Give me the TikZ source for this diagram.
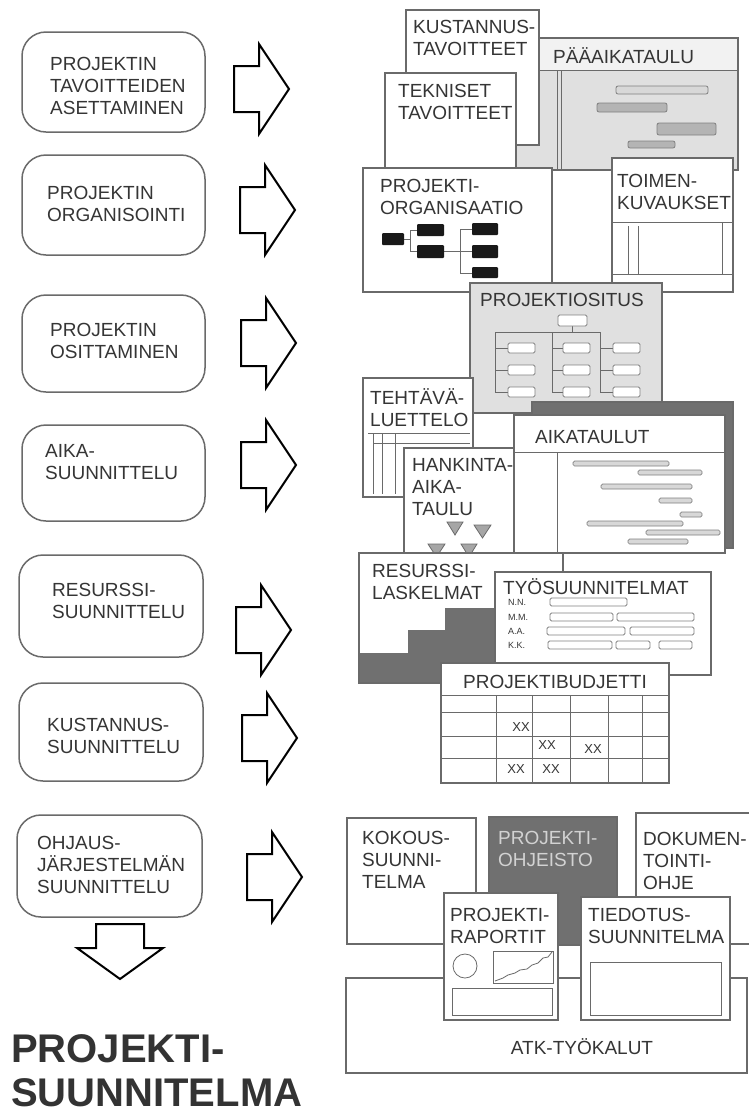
\documentclass[tikz,border=0pt]{standalone}
\usepackage{fontspec}
\setmainfont{Liberation Sans}
\definecolor{ln}{HTML}{6A6A6A}
\definecolor{txt}{HTML}{353535}
\definecolor{lgray}{HTML}{E0E0E0}
\definecolor{hdr}{HTML}{F2F2F2}
\definecolor{dgray}{HTML}{707070}
\definecolor{barf}{HTML}{B4B4B4}
\definecolor{barl}{HTML}{D8D8D8}
\definecolor{ohj}{HTML}{D2D2D2}
\tikzset{
  box/.style={draw=ln, line width=1.2pt, fill=white},
  thinln/.style={draw=ln, line width=0.8pt},
  lbl/.style={inner sep=0pt, anchor=west, align=left, text=txt, font=\fontsize{19}{22}\selectfont},
  smalllbl/.style={inner sep=0pt, anchor=west, text=txt, font=\fontsize{9}{10}\selectfont},
  xxlbl/.style={inner sep=0pt, text=txt, font=\fontsize{13}{15}\selectfont},
  leftbox/.style={draw=ln, line width=1.5pt, rounded corners=24pt, fill=white},
  blk/.style={draw=black, line width=2pt, fill=white, line join=miter},
  gbar/.style={draw=gray, line width=0.8pt, fill=barf, rounded corners=2pt},
  lbar/.style={draw=gray, line width=0.7pt, fill=barl, rounded corners=1.5pt},
  wbar/.style={draw=gray, line width=0.8pt, fill=white, rounded corners=1.5pt},
  blkbox/.style={fill=black!90, rounded corners=1pt},
  tri/.style={draw=ln, line width=0.8pt, fill=gray!70},
  rarrow/.pic={\draw[blk] (-27,-23)--(-2,-23)--(-2,-45)--(28,0)--(-2,45)--(-2,23)--(-27,23)--cycle;}
}
\begin{document}
\begin{tikzpicture}[x=1pt,y=-1pt]
\useasboundingbox[fill=white] (0,0) rectangle (749,1117);

% ---------- left column ----------
\draw[leftbox] (22,32) rectangle (205,132);
\node[lbl] (l1) at (50,86) {PROJEKTIN\\TAVOITTEIDEN\\ASETTAMINEN};
\draw[leftbox] (22,155) rectangle (205,255);
\node[lbl] (l2) at (47,204) {PROJEKTIN\\ORGANISOINTI};
\draw[leftbox] (22,295) rectangle (205,392);
\node[lbl] (l3) at (50,341) {PROJEKTIN\\OSITTAMINEN};
\draw[leftbox] (22,425) rectangle (205,521);
\node[lbl] (l4) at (45,462) {AIKA-\\SUUNNITTELU};
\draw[leftbox] (19,555) rectangle (203,657);
\node[lbl] (l5) at (52,601) {RESURSSI-\\SUUNNITTELU};
\draw[leftbox] (19,683) rectangle (203,781);
\node[lbl] (l6) at (47,736) {KUSTANNUS-\\SUUNNITTELU};
\draw[leftbox] (17,815) rectangle (202,917);
\node[lbl] (l7) at (37,865) {OHJAUS-\\JÄRJESTELMÄN\\SUUNNITTELU};

\pic at (261,89) {rarrow};
\pic at (267,210) {rarrow};
\pic at (268,343) {rarrow};
\pic at (268,465) {rarrow};
\pic at (263,630) {rarrow};
\pic at (269,738) {rarrow};
\pic at (274,877) {rarrow};
\draw[blk] (96,924)--(144,924)--(144,948)--(163,948)--(120,979)--(77,948)--(96,948)--cycle;

\node[inner sep=0pt, anchor=west, align=left, text=black!80, font=\fontsize{40}{44}\bfseries\selectfont] (title) at (11,1071) {PROJEKTI-\\SUUNNITELMA};

% ---------- PÄÄAIKATAULU ----------
\fill[lgray] (500,38) rectangle (738,170);
\fill[hdr] (500,38) rectangle (738,70);
\draw[ln, line width=1.2pt] (500,38) rectangle (738,170);
\draw[thinln] (500,70)--(738,70);
\draw[thinln] (557,70)--(557,170);
\draw[thinln] (561,70)--(561,170);
\node[lbl] (paa) at (553,56) {PÄÄAIKATAULU};
\draw[gbar, fill=barl] (616,86) rectangle (708,94);
\draw[gbar] (597,103) rectangle (667,112);
\draw[gbar] (657,123) rectangle (716,135);
\draw[gbar] (628,141) rectangle (675,148);

% ---------- KUSTANNUS / TEKNISET ----------
\draw[box] (406,10) rectangle (539,145);
\node[lbl] (kus) at (413,38) {KUSTANNUS-\\TAVOITTEET};
\draw[box] (385,73) rectangle (516,180);
\node[lbl] (tek) at (398,101.5) {TEKNISET\\TAVOITTEET};

% ---------- ORGANISAATIO ----------
\draw[ln, line width=1.2pt] (552,292)--(612,292);
\draw[box] (363,168) rectangle (552,292);
\node[lbl] (org) at (380,197) {PROJEKTI-\\ORGANISAATIO};
\draw[thinln] (404,239)--(410,239) (410,230)--(410,251) (410,230)--(417,230) (410,251)--(417,251)
  (444,251)--(472,251) (460,229)--(460,273) (460,229)--(472,229) (460,273)--(472,273);
\fill[blkbox] (382,233) rectangle (404,245);
\fill[blkbox] (417,224) rectangle (444,236);
\fill[blkbox] (417,245) rectangle (444,258);
\fill[blkbox] (472,223) rectangle (498,235);
\fill[blkbox] (472,245) rectangle (498,258);
\fill[blkbox] (472,267) rectangle (498,278);

% ---------- TOIMENKUVAUKSET ----------
\draw[box] (612,158) rectangle (733,292);
\node[lbl] (toi) at (617,191.5) {TOIMEN-\\KUVAUKSET};
\draw[thinln] (612,222)--(733,222) (612,274)--(733,274)
  (628,226)--(628,274) (638,226)--(638,274) (722,222)--(722,274);

% ---------- PROJEKTIOSITUS ----------
\draw[box, fill=lgray] (470,283) rectangle (662,413);
\node[lbl] (osi) at (480,300) {PROJEKTIOSITUS};
\draw[thinln] (572,326)--(572,332) (495,332)--(600,332)
  (495,332)--(495,392) (552,332)--(552,392) (600,332)--(600,392);
\foreach \L/\B in {495/508, 552/563, 600/613}{
  \foreach \y in {348,370,392}{
    \draw[thinln] (\L,\y)--(\B,\y);
    \draw[wbar] (\B,\y-5) rectangle (\B+27,\y+5);
  }
}
\draw[wbar] (558,315) rectangle (587,326);

% ---------- TEHTÄVÄLUETTELO ----------
\draw[box] (363,378) rectangle (473,497);
\node[lbl] (teh) at (370,407.5) {TEHTÄVÄ-\\LUETTELO};
\draw[thinln] (368,433)--(470,433) (373,443)--(470,443)
  (373,433)--(373,494) (382,433)--(382,494) (395,433)--(395,494);

% ---------- AIKATAULUT ----------
\draw[ln, line width=1.2pt, fill=dgray] (532,402) rectangle (733,548);
\draw[box] (514,415) rectangle (725,553);
\draw[thinln] (514,452)--(725,452) (557,452)--(557,553);
\node[lbl] (aik) at (535,437) {AIKATAULUT};
\draw[lbar] (573,461) rectangle (669,466);
\draw[lbar] (638,470) rectangle (702,475);
\draw[lbar] (601,484) rectangle (692,489);
\draw[lbar] (659,498) rectangle (692,503);
\draw[lbar] (680,512) rectangle (702,517);
\draw[lbar] (587,521) rectangle (683,526);
\draw[lbar] (646,530) rectangle (720,535);
\draw[lbar] (628,539) rectangle (688,544);

% ---------- HANKINTA-AIKATAULU ----------
\draw[box] (404,448) rectangle (514,565);
\node[lbl] (han) at (412,487) {HANKINTA-\\AIKA-\\TAULU};
\draw[tri] (447,522)--(463,522)--(455,535)--cycle;
\draw[tri] (474,525)--(491,525)--(482.5,538)--cycle;
\draw[tri] (428,544)--(445,544)--(436.5,557)--cycle;
\draw[tri] (461,544)--(477,544)--(469,557)--cycle;

% ---------- RESURSSILASKELMAT ----------
\draw[box] (359,553) rectangle (563,683);
\fill[dgray] (359,653)--(408,653)--(408,630)--(445,630)--(445,608)--(563,608)--(563,683)--(359,683)--cycle;
\draw[ln, line width=1.2pt] (359,553) rectangle (563,683);
\node[lbl] (res) at (372,582) {RESURSSI-\\LASKELMAT};

% ---------- TYÖSUUNNITELMAT ----------
\draw[box] (495,572) rectangle (711,675);
\node[lbl] (tyo) at (503,587) {TYÖSUUNNITELMAT};
\node[smalllbl] (nn) at (508,602) {N.N.};
\node[smalllbl] (mm) at (508,617) {M.M.};
\node[smalllbl] (aa) at (508,631) {A.A.};
\node[smalllbl] (kk) at (508,645) {K.K.};
\draw[wbar] (550,598) rectangle (627,606);
\draw[wbar] (550,613) rectangle (613,621);
\draw[wbar] (617,613) rectangle (694,621);
\draw[wbar] (547,627) rectangle (625,635);
\draw[wbar] (630,627) rectangle (694,635);
\draw[wbar] (548,641) rectangle (612,649);
\draw[wbar] (616,641) rectangle (650,649);
\draw[wbar] (659,641) rectangle (692,649);

% ---------- PROJEKTIBUDJETTI ----------
\draw[box] (441,663) rectangle (669,783);
\node[lbl, anchor=center] (bud) at (555,682) {PROJEKTIBUDJETTI};
\draw[thinln] (441,695)--(669,695) (441,712)--(669,712) (441,736)--(669,736) (441,758)--(669,758);
\foreach \x in {496,532,570,608,642}{\draw[thinln] (\x,695)--(\x,783);}
\node[xxlbl] (x1) at (521,727) {XX};
\node[xxlbl] (x2) at (547,745) {XX};
\node[xxlbl] (x3) at (593,749) {XX};
\node[xxlbl] (x4) at (516,769) {XX};
\node[xxlbl] (x5) at (551,769) {XX};

% ---------- bottom cluster ----------
\draw[box] (346,978) rectangle (747,1073);
\node[lbl, anchor=center] (atk) at (582,1047) {ATK-TYÖKALUT};
\draw[box] (347,818) rectangle (476,944);
\node[lbl] (kok) at (362,859.5) {KOKOUS-\\SUUNNI-\\TELMA};
\draw[box, fill=dgray] (489,817) rectangle (617,945);
\node[lbl, text=ohj] (ohj) at (498,848.5) {PROJEKTI-\\OHJEISTO};
\draw[box] (636,813) rectangle (756,944);
\node[lbl] (dok) at (643,860.5) {DOKUMEN-\\TOINTI-\\OHJE};
\draw[box] (444,893) rectangle (558,1020);
\node[lbl] (rap) at (450,926) {PROJEKTI-\\RAPORTIT};
\draw[thinln] (465,966) circle (12);
\draw[thinln] (493,951) rectangle (553,983);
\draw[thinln] (495,981)--(503,978)--(508,975)--(515,973)--(520,970)--(527,969)--(532,965)--(538,963)--(543,958)--(548,957)--(552,952);
\draw[thinln] (452,988) rectangle (552,1015);
\draw[box] (581,897) rectangle (730,1020);
\node[lbl] (tie) at (588,926) {TIEDOTUS-\\SUUNNITELMA};
\draw[thinln] (590,962) rectangle (721,1015);
\end{tikzpicture}
\end{document}
